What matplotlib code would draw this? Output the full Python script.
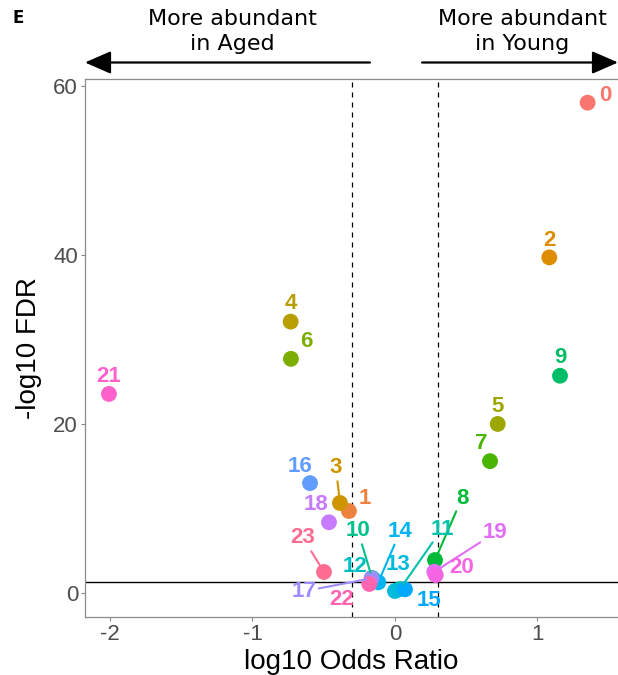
"""
    Volcano plot of cluster abundance, aged vs young.
"""


# ------ Environment Setup ------ #
import numpy as np
import matplotlib
matplotlib.use("Agg")
import matplotlib.pyplot as plt
from matplotlib.patches import FancyArrowPatch


# ------ Data ------ #
clusters = ["0", "1", "2", "3", "4", "5", "6", "7", "8", "9", "10", "11",
            "12", "13", "14", "15", "16", "17", "18", "19", "20", "21", "22", "23"]
log_odds = [1.352, -0.323, 1.083, -0.386, -0.732, 0.721, -0.730, 0.667,
            0.281, 1.158, -0.161, 0.035, -0.147, 0.0, -0.117, 0.070,
            -0.596, -0.164, -0.463, 0.276, 0.286, -2.007, -0.180, -0.498]
neg_log_fdr = [58.0, 9.7, 39.7, 10.65, 32.1, 20.0, 27.7, 15.6,
               3.9, 25.7, 1.78, 0.47, 1.54, 0.24, 1.27, 0.44,
               13.0, 1.74, 8.37, 2.52, 2.13, 23.55, 1.07, 2.49]
fdr_cutoff = 1.3
or_cutoff = 0.3

# label placement (pixel offsets from each point) and which ones get a segment
label_offsets = [(18, 7), (16, 13), (0, 17), (-4, 35), (0, 18), (0, 17),
                 (15, 17), (-9, 18), (27, 62), (0, 18), (-14, 47), (42, 60),
                 (-19, 14), (3, 26), (22, 51), (24, -11), (-10, 17), (-68, -13),
                 (-13, 18), (61, 39), (26, 8), (0, 17), (-28, -16), (-21, 34)]
label_segment = [False, False, False, True, False, False, False, False,
                 True, False, True, True, False, False, True, False,
                 False, True, False, True, False, False, False, True]


# ------ Colors ------ #
"""
    ggplot-style hue palette (HCL, l=65, c=100).
"""
def hue_pal(n, c=100.0, l=65.0):
    hues = np.linspace(15, 375, n + 1)[:-1]
    xn, yn, zn = 95.047, 100.0, 108.883
    un = 4 * xn / (xn + 15 * yn + 3 * zn)
    vn = 9 * yn / (xn + 15 * yn + 3 * zn)
    out = []
    for h in hues:
        hr = np.deg2rad(h)
        U, V = c * np.cos(hr), c * np.sin(hr)
        Y = yn * ((l + 16) / 116) ** 3
        u = U / (13 * l) + un
        v = V / (13 * l) + vn
        X = 9.0 * Y * u / (4 * v)
        Z = -X / 3 - 5 * Y + 3 * Y / v
        X, Y, Z = X / 100, Y / 100, Z / 100
        rgb = np.array([
            3.240479 * X - 1.537150 * Y - 0.498535 * Z,
            -0.969256 * X + 1.875992 * Y + 0.041556 * Z,
            0.055648 * X - 0.204043 * Y + 1.057311 * Z,
        ])
        rgb = np.where(rgb <= 0.0031308, 12.92 * rgb,
                       1.055 * np.abs(rgb) ** (1 / 2.4) - 0.055)
        out.append(tuple(np.clip(rgb, 0, 1)))
    return out


colors = hue_pal(len(clusters))


# ------ Plotting ------ #
W, H = 618, 675
fig = plt.figure(figsize=(W / 100, H / 100), dpi=100)
ax = fig.add_axes([85 / W, 1 - 616.7 / H, 1 - 85 / W, (616.7 - 79) / H])

# threshold lines
ax.axhline(fdr_cutoff, color="black", lw=1.0, zorder=0)
for xv in (-or_cutoff, or_cutoff):
    ax.axvline(xv, color="black", lw=0.9, ls=(0, (4, 4)), zorder=0)

# points
ax.scatter(log_odds, neg_log_fdr, s=130, c=colors, linewidths=0, zorder=2)

# labels
for i, name in enumerate(clusters):
    arrow = None
    if label_segment[i]:
        arrow = dict(arrowstyle="-", color=colors[i], lw=1.5,
                     shrinkA=0, shrinkB=4)
    ax.annotate(name, (log_odds[i], neg_log_fdr[i]),
                xytext=label_offsets[i], textcoords="offset pixels",
                ha="center", va="center", fontsize=16, fontweight="bold",
                family="Liberation Sans", color=colors[i],
                arrowprops=arrow, zorder=3)

# axes styling
ax.set_xlim(-2.175, 1.565)
ax.set_ylim(-2.8, 60.8)
ax.set_xticks([-2, -1, 0, 1])
ax.set_yticks([0, 20, 40, 60])
ax.set_xticklabels(["-2", "-1", "0", "1"], family="Liberation Sans")
ax.set_yticklabels(["0", "20", "40", "60"], family="Liberation Sans")
ax.tick_params(direction="out", length=3, width=0.8, color="#888888",
               labelcolor="#4D4D4D", labelsize=16, pad=2)
for side in ("left", "bottom", "top"):
    ax.spines[side].set_color("#8c8c8c")
    ax.spines[side].set_linewidth(0.9)
ax.spines["right"].set_visible(False)

ax.set_xlabel("log10 Odds Ratio", fontsize=20, family="Liberation Sans", labelpad=3)
ax.set_ylabel("-log10 FDR", fontsize=20, family="Liberation Sans", labelpad=8)

# header: panel letter, direction text & arrows
fig.text(18 / W, 1 - 18 / H, "E", fontsize=12, fontweight="bold",
         ha="center", va="center")
fig.text(232 / W, 1 - 31.5 / H, "More abundant\nin Aged", fontsize=16,
         ha="center", va="center", linespacing=1.35)
fig.text(522 / W, 1 - 31.5 / H, "More abundant\nin Young", fontsize=16,
         ha="center", va="center", linespacing=1.35)

arrow_y = 1 - 62.5 / H
for x0, x1 in ((370, 85), (422, 618)):
    fig.add_artist(FancyArrowPatch(
        (x0 / W, arrow_y), (x1 / W, arrow_y), transform=fig.transFigure,
        arrowstyle="-|>,head_length=16,head_width=7", mutation_scale=1,
        lw=1.6, color="black", shrinkA=0, shrinkB=0))

plt.savefig("out.png", dpi=100)
